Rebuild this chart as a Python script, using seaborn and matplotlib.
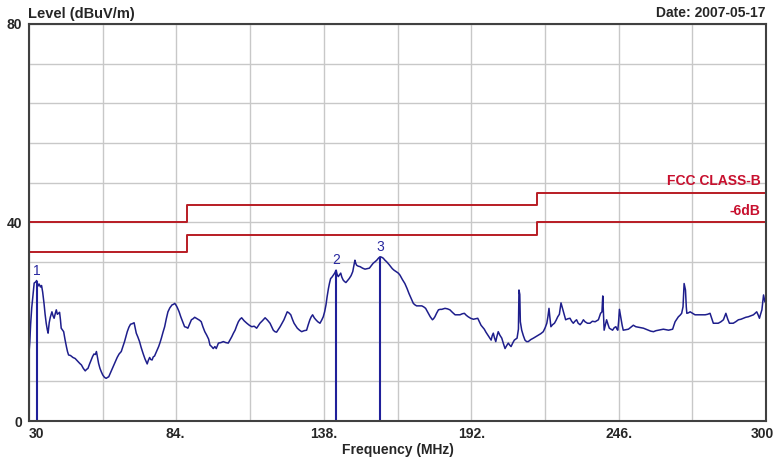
import matplotlib
matplotlib.use("Agg")
import matplotlib.pyplot as plt
import matplotlib.transforms as mtransforms
import seaborn as sns
import pandas as pd
import numpy as np

# ---------------- data ----------------
freq = [30.0, 30.3, 30.6, 31.0, 31.5, 31.9, 32.4, 32.8, 33.3, 33.7, 34.2, 34.6, 35.0, 35.5, 35.9, 36.3, 36.7, 37.0, 37.4, 37.8,
        38.4, 38.8, 39.2, 39.6, 40.0, 40.4, 40.8, 41.2, 41.5, 41.8, 42.3, 42.7, 43.2, 43.7, 44.1, 44.5, 45.2, 46.1, 46.9, 47.9,
        48.6, 49.2, 49.9, 50.6, 51.1, 51.6, 52.2, 52.8, 53.3, 53.8, 54.3, 54.7, 55.1, 55.5, 56.0, 56.5, 57.0, 57.5, 57.9, 58.3,
        58.8, 59.2, 60.0, 60.8, 61.5, 62.3, 63.0, 63.8, 64.4, 65.0, 65.5, 66.0, 66.6, 67.2, 67.8, 68.5, 68.9, 69.3, 69.9, 70.5,
        71.1, 71.8, 72.5, 73.3, 73.7, 74.2, 74.6, 75.1, 75.5, 76.0, 76.8, 77.5, 78.0, 78.5, 79.1, 79.7, 80.3, 80.9, 81.6, 82.4,
        82.9, 83.4, 83.9, 84.3, 85.0, 85.6, 86.3, 87.0, 87.6, 88.2, 88.9, 89.5, 90.1, 90.7, 91.3, 91.9, 92.5, 93.1, 93.7, 94.4,
        95.1, 95.8, 96.3, 96.9, 97.5, 98.1, 98.6, 99.4, 100.3, 101.2, 102.1, 103.0, 103.6, 104.3, 104.9, 105.5, 106.1, 106.7, 107.3, 107.9,
        108.8, 109.8, 110.7, 111.6, 112.5, 113.4, 114.0, 114.6, 115.5, 116.5, 117.4, 118.3, 118.9, 119.5, 120.1, 120.7, 121.3, 122.0, 122.7, 123.4,
        124.0, 124.6, 125.2, 125.9, 126.5, 127.1, 127.7, 128.3, 129.1, 129.9, 130.8, 131.7, 132.3, 132.9, 133.4, 133.9, 134.5, 135.1, 135.8, 136.6,
        137.2, 137.8, 138.3, 138.8, 139.2, 139.7, 140.1, 140.5, 141.0, 141.5, 142.0, 142.5, 142.9, 143.3, 143.8, 144.2, 144.6, 145.1, 145.6, 146.1,
        146.7, 147.3, 148.0, 148.6, 149.0, 149.4, 149.7, 150.0, 150.6, 151.3, 152.2, 153.1, 153.9, 154.7, 155.4, 156.1, 156.8, 157.4, 158.0, 158.6,
        159.2, 159.8, 160.4, 161.0, 161.8, 162.5, 163.1, 163.7, 164.5, 165.3, 165.9, 166.8, 167.7, 168.5, 169.2, 170.0, 170.8, 171.4, 172.0, 173.0,
        173.9, 174.6, 175.3, 175.8, 176.3, 177.0, 177.8, 178.2, 178.7, 179.3, 180.0, 180.6, 181.2, 181.8, 182.4, 183.3, 184.2, 185.1, 186.1, 187.0,
        187.9, 188.7, 189.5, 190.2, 190.9, 191.8, 192.8, 193.6, 194.4, 195.0, 195.6, 196.2, 196.8, 197.4, 198.1, 198.7, 199.3, 199.7, 200.1, 200.5,
        201.0, 201.4, 201.9, 202.5, 203.2, 203.8, 204.4, 205.0, 205.6, 206.1, 206.6, 207.2, 207.8, 208.3, 208.8, 209.3, 209.5, 209.8, 210.0, 210.5,
        211.1, 211.7, 212.3, 212.9, 213.8, 214.8, 215.7, 216.6, 217.5, 218.4, 219.1, 219.7, 220.1, 220.5, 220.8, 221.2, 221.8, 222.5, 223.1, 223.7,
        224.3, 224.9, 225.3, 225.8, 226.2, 226.6, 227.4, 228.2, 228.8, 229.4, 230.0, 230.6, 231.2, 231.9, 232.5, 233.1, 233.7, 234.6, 235.5, 236.4,
        237.4, 238.0, 238.6, 239.4, 239.9, 240.2, 240.5, 240.7, 241.2, 241.6, 242.1, 242.6, 243.2, 243.8, 244.4, 245.0, 245.4, 245.7, 246.0, 246.3,
        246.6, 246.9, 247.3, 247.7, 248.6, 249.6, 250.5, 251.4, 252.3, 253.2, 254.1, 255.1, 256.0, 256.9, 257.8, 258.8, 259.7, 260.6, 261.5, 262.4,
        263.4, 264.3, 265.0, 265.8, 266.2, 266.7, 267.3, 267.9, 268.5, 269.1, 269.6, 270.0, 270.5, 270.8, 271.0, 271.6, 272.2, 273.1, 274.0, 274.9,
        275.8, 276.8, 277.7, 278.6, 279.5, 280.1, 280.7, 281.6, 282.5, 283.5, 284.4, 285.3, 286.0, 286.6, 287.3, 288.0, 288.9, 289.9, 290.8, 291.7,
        292.6, 293.5, 294.5, 295.4, 296.0, 296.6, 297.1, 297.6, 298.0, 298.5, 299.1, 299.6]
level = [13.7, 16.0, 19.5, 22.8, 25.5, 27.8, 28.0, 28.3, 27.2, 27.6, 27.0, 27.3, 26.0, 23.7, 21.5, 19.7, 18.4, 17.7, 19.8, 20.9,
         22.0, 21.2, 20.7, 21.6, 22.4, 21.5, 21.7, 21.9, 20.5, 18.7, 18.3, 18.0, 16.4, 15.0, 14.0, 13.3, 13.2, 12.8, 12.6, 12.0,
         11.6, 11.3, 10.6, 10.1, 10.4, 10.6, 11.5, 12.3, 13.0, 13.5, 13.4, 14.0, 12.8, 11.6, 10.6, 9.9, 9.3, 8.9, 8.7, 8.6,
         8.8, 8.9, 9.9, 10.9, 11.8, 12.8, 13.5, 14.0, 15.0, 16.0, 17.0, 18.0, 18.9, 19.5, 19.6, 19.8, 18.8, 17.7, 16.9, 16.0,
         14.8, 13.6, 12.5, 11.5, 12.2, 12.8, 12.4, 12.3, 12.9, 13.1, 14.1, 15.0, 15.8, 16.7, 17.9, 19.0, 20.6, 22.0, 22.8, 23.4,
         23.5, 23.7, 23.3, 22.9, 22.0, 21.0, 20.0, 19.0, 18.9, 18.7, 19.6, 20.4, 20.6, 20.9, 20.7, 20.5, 20.3, 20.0, 19.0, 18.0,
         17.3, 16.5, 15.3, 15.0, 14.6, 15.0, 14.6, 15.7, 15.8, 16.0, 15.8, 15.7, 16.3, 17.0, 17.7, 18.3, 19.2, 20.0, 20.5, 20.8,
         20.2, 19.7, 19.3, 19.0, 19.1, 18.7, 19.2, 19.7, 20.2, 20.8, 20.3, 19.7, 19.0, 18.3, 18.0, 17.9, 18.4, 19.0, 19.7, 20.4,
         21.2, 22.0, 21.8, 21.4, 20.5, 19.7, 19.2, 18.7, 18.3, 18.0, 18.2, 18.3, 19.4, 20.4, 21.0, 21.4, 20.8, 20.4, 20.0, 19.7,
         20.3, 21.0, 22.0, 23.4, 25.0, 26.7, 27.8, 28.7, 29.0, 29.4, 29.8, 30.4, 29.5, 29.1, 29.5, 29.8, 29.0, 28.4, 28.1, 27.9,
         28.3, 28.7, 29.3, 30.1, 31.3, 32.4, 31.8, 31.4, 31.2, 31.1, 30.8, 30.6, 30.7, 30.8, 31.3, 31.8, 32.1, 32.4, 32.8, 33.1,
         33.0, 32.8, 32.4, 32.1, 31.6, 31.1, 30.7, 30.4, 30.1, 29.8, 29.4, 28.5, 27.7, 26.7, 25.7, 24.7, 23.7, 23.4, 23.2, 23.2,
         23.2, 23.0, 22.7, 22.2, 21.7, 21.0, 20.4, 20.6, 21.0, 21.7, 22.4, 22.5, 22.5, 22.6, 22.7, 22.6, 22.4, 21.9, 21.4, 21.4,
         21.4, 21.6, 21.7, 21.3, 21.0, 20.7, 20.5, 20.6, 20.7, 20.0, 19.3, 18.9, 18.5, 17.9, 17.3, 16.8, 16.3, 17.2, 17.7, 16.8,
         16.0, 17.0, 18.0, 17.3, 16.7, 15.6, 14.6, 15.2, 15.7, 15.3, 15.0, 15.7, 16.3, 16.5, 16.7, 18.5, 26.4, 25.5, 20.0, 18.3,
         17.2, 16.3, 16.0, 16.0, 16.4, 16.7, 17.0, 17.3, 17.6, 18.0, 18.8, 19.7, 21.0, 22.7, 21.0, 19.0, 19.4, 19.7, 20.3, 21.0,
         21.5, 23.8, 23.0, 22.0, 21.2, 20.4, 20.6, 20.7, 20.1, 19.7, 20.1, 20.4, 19.7, 19.4, 19.8, 20.4, 20.0, 19.7, 19.7, 20.1,
         20.0, 20.2, 20.4, 21.7, 22.0, 25.2, 21.0, 18.3, 19.5, 20.4, 19.5, 18.7, 18.5, 18.3, 18.8, 19.0, 18.5, 18.3, 20.0, 22.5,
         21.5, 20.4, 19.3, 18.3, 18.4, 18.5, 18.9, 19.3, 19.0, 18.9, 18.8, 18.7, 18.5, 18.3, 18.1, 18.0, 18.2, 18.3, 18.4, 18.5,
         18.4, 18.3, 18.4, 18.5, 19.2, 20.0, 20.5, 21.0, 21.3, 21.7, 23.0, 27.7, 26.4, 23.0, 21.7, 21.8, 22.0, 21.7, 21.4, 21.4,
         21.4, 21.4, 21.4, 21.5, 21.7, 20.7, 19.7, 19.7, 19.7, 20.0, 20.4, 21.7, 20.5, 19.7, 19.7, 19.7, 20.0, 20.4, 20.5, 20.7,
         20.9, 21.0, 21.2, 21.4, 21.7, 22.0, 21.4, 20.7, 21.5, 22.4, 25.4, 24.0]

limit_freq = [30, 88, 216, 300]
limit_fcc = [40.0, 43.5, 46.0, 46.0]
limit_6db = [34.0, 37.5, 40.0, 40.0]

marker_ids = ["1", "2", "3"]
marker_freq = [32.8, 142.5, 158.6]
marker_level = [28.3, 30.4, 33.1]

x_ticks = [30, 84, 138, 192, 246, 300]
x_labels = ["30", "84.", "138.", "192.", "246.", "300"]
y_ticks = [0, 40, 80]
y_labels = ["0", "40", "80"]

# ---------------- style ----------------
sns.set_style("white")
plt.rcParams["font.family"] = ["Liberation Sans", "DejaVu Sans"]

W, H = 779, 461
fig = plt.figure(figsize=(W / 100, H / 100), dpi=100)
ax = fig.add_axes([29 / W, 1 - 421 / H, (766 - 29) / W, (421 - 24) / H])

trace_df = pd.DataFrame({"freq": freq, "level": level})
lim_df = pd.DataFrame({"freq": limit_freq, "fcc": limit_fcc, "m6": limit_6db})

red = "#B81C24"
navy = "#1E1E8C"

sns.lineplot(data=lim_df, x="freq", y="fcc", ax=ax, color=red, lw=1.4,
             drawstyle="steps-post", estimator=None, sort=False)
sns.lineplot(data=lim_df, x="freq", y="m6", ax=ax, color=red, lw=1.4,
             drawstyle="steps-post", estimator=None, sort=False)
sns.lineplot(data=trace_df, x="freq", y="level", ax=ax, color=navy, lw=1.1,
             estimator=None, sort=False)

ax.vlines(marker_freq, 0, marker_level, color="#20209A", lw=1.5)
for mid, mf, ml in zip(marker_ids, marker_freq, marker_level):
    ax.annotate(mid, (mf, ml), xytext=(0, 2), textcoords="offset points",
                ha="center", va="bottom", fontsize=10, color="#2828A0")

ax.set_xlim(30, 300)
ax.set_ylim(0, 80)

ax.set_xticks(x_ticks)
ax.set_xticklabels(x_labels, fontsize=10, fontweight="bold")
ax.set_xticks(np.arange(30, 301, 27), minor=True)
ax.set_yticks(y_ticks)
ax.set_yticklabels(y_labels, fontsize=10, fontweight="bold")
ax.set_yticks(np.arange(0, 81, 8), minor=True)
ax.tick_params(axis="both", which="both", length=0)
ax.tick_params(axis="x", pad=4)
ax.tick_params(axis="y", pad=5)
xl = ax.get_xticklabels()
xl[0].set_ha("left")
shift = mtransforms.ScaledTranslation(-4 / 100, 0, fig.dpi_scale_trans)
xl[-1].set_transform(xl[-1].get_transform() + shift)
xl[1].set_transform(xl[1].get_transform() + mtransforms.ScaledTranslation(-1 / 100, 0, fig.dpi_scale_trans))

ax.grid(True, which="both", color="#C8C8C8", lw=1.0)
ax.set_axisbelow(True)
for s in ax.spines.values():
    s.set_visible(True)
    s.set_color("#404040")
    s.set_linewidth(1.5)

ax.set_xlabel("Frequency (MHz)", fontsize=10, fontweight="bold", labelpad=2)
ax.set_ylabel("")

fig.text(28 / W, 1 - 14 / H, "Level (dBuV/m)", ha="left", va="center",
         fontsize=10.5, fontweight="bold")
fig.text(766 / W, 1 - 13 / H, "Date: 2007-05-17", ha="right", va="center",
         fontsize=10, fontweight="bold")

ax.text(0.993, 46.0 + 1.0, "FCC CLASS-B", transform=ax.get_yaxis_transform(),
        ha="right", va="bottom", fontsize=10, fontweight="bold", color="#C8102E")
ax.text(0.993, 40.0 + 1.0, "-6dB", transform=ax.get_yaxis_transform(),
        ha="right", va="bottom", fontsize=10, fontweight="bold", color="#C8102E")

fig.savefig("out.png", dpi=100, facecolor="white")
